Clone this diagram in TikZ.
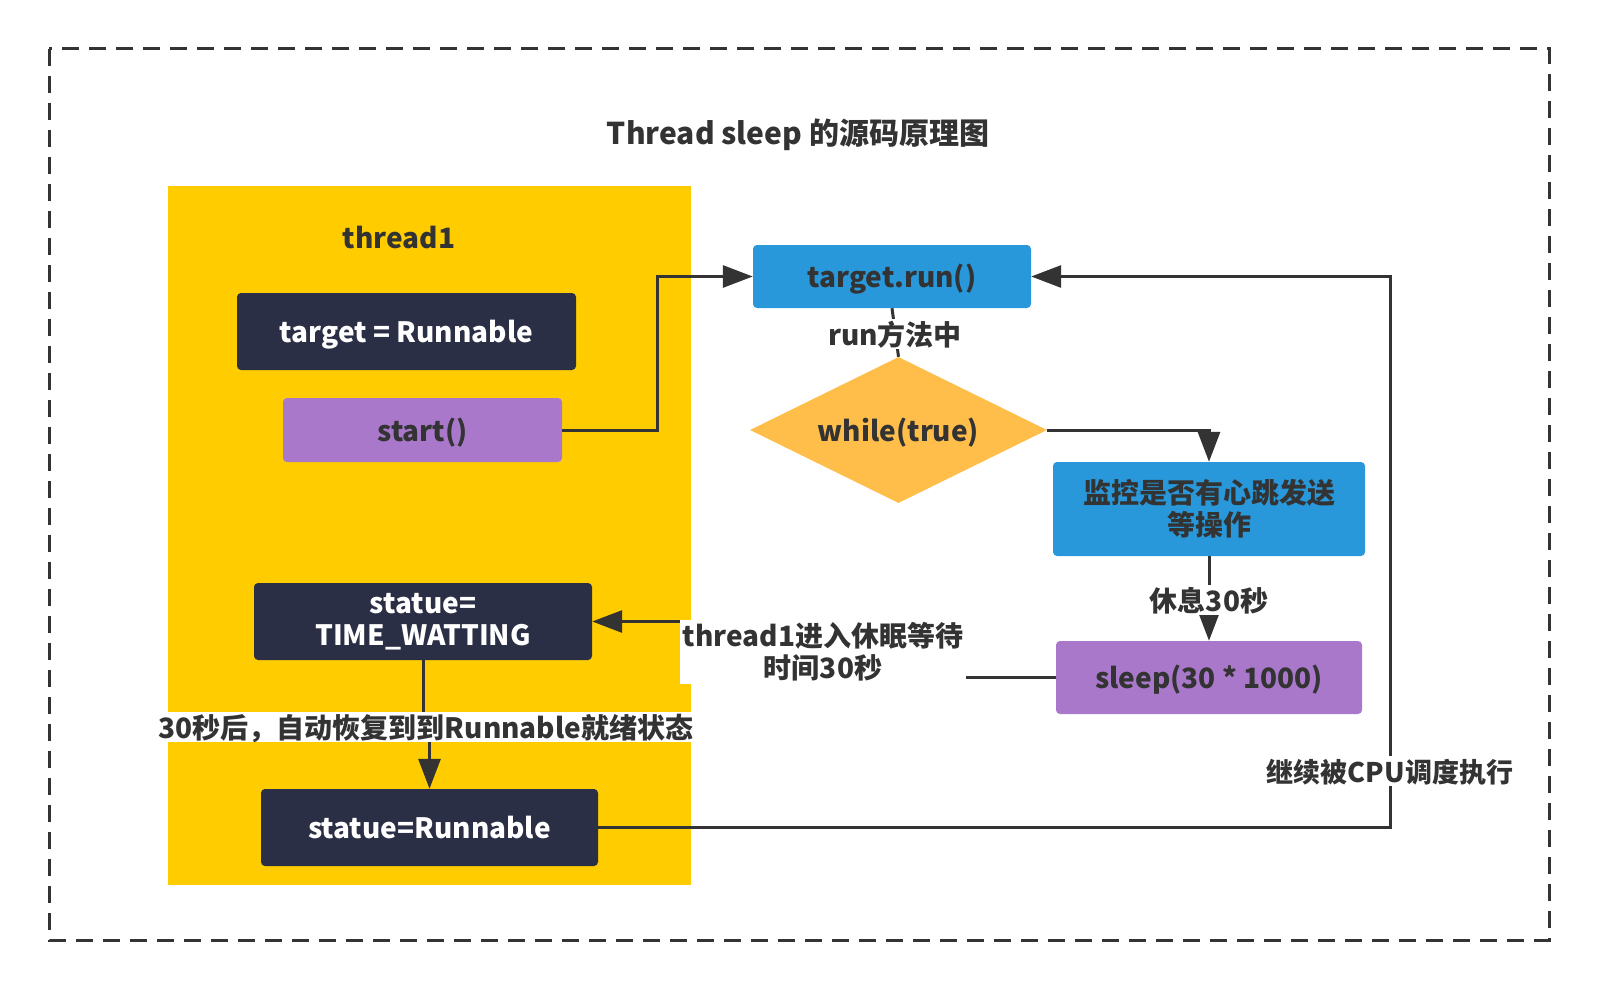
\documentclass[tikz,border=0pt]{standalone}
\usepackage{fontspec}
\setmainfont{Noto Sans CJK SC}
\usetikzlibrary{arrows.meta,shapes.geometric}

\definecolor{ink}{HTML}{333333}
\definecolor{gold}{HTML}{FFCC00}
\definecolor{navy}{HTML}{2B2F45}
\definecolor{lilac}{HTML}{A978CB}
\definecolor{sky}{HTML}{2898DA}
\definecolor{amber}{HTML}{FFBD4A}

\begin{document}
\begin{tikzpicture}[x=1pt,y=-1pt,
  txt/.style={font=\fontsize{28}{32}\selectfont\bfseries,text=ink},
  oneline/.style={text height=25pt,text depth=3pt},
  box/.style={txt,rounded corners=4pt,align=center,inner sep=0pt},
  navybox/.style={box,fill=navy,text=white},
  lilacbox/.style={box,fill=lilac},
  skybox/.style={box,fill=sky},
  lbl/.style={txt,fill=white,inner sep=1pt,align=center},
  arr/.style={draw=ink,line width=3pt,-{Triangle[length=30pt,width=22pt]}},
  con/.style={draw=ink,line width=3pt}]
 \useasboundingbox (0,0) rectangle (1598,990);
 % outer frame and thread area
 \draw[ink,line width=3pt,dash pattern=on 17pt off 10pt] (49,49) rectangle (1549,940);
 \fill[gold] (168,186) rectangle (691,885);
 \node[txt,oneline,font=\fontsize{30}{34}\selectfont\bfseries] (title) at (798,133) {Thread sleep 的源码原理图};
 \node[txt,oneline] (thr) at (399,237) {thread1};
 % thread1 side
 \node[navybox,oneline,minimum width=339pt,minimum height=77pt] (tgt) at (406.5,331.5) {target = Runnable};
 \node[lilacbox,oneline,minimum width=279pt,minimum height=64pt] (start) at (422.5,430) {start()};
 \node[navybox,minimum width=338pt,minimum height=77pt] (tw) at (423,621.5) {statue=\\TIME\_WATTING};
 \node[navybox,oneline,minimum width=337pt,minimum height=77pt] (rn) at (429.5,827.5) {statue=Runnable};
 % run side
 \node[skybox,oneline,minimum width=278pt,minimum height=63pt] (run) at (892,276.5) {target.run()};
 \node[txt,oneline,diamond,aspect=2.03,fill=amber,inner sep=0pt,minimum width=297pt,minimum height=146pt] (loop) at (898.5,430) {while(true)};
 \node[skybox,minimum width=312pt,minimum height=94pt] (mon) at (1209,509) {监控是否有心跳发送\\等操作};
 \node[lilacbox,oneline,minimum width=306pt,minimum height=73pt] (slp) at (1209,677.5) {sleep(30 * 1000)};
 % connectors
 \draw[arr] (start.east) -- ++(95,0) |- (run.west);
 \draw[con] (run.south) -- (loop.north);
 \node[lbl,oneline] (lrun) at (895,334) {run方法中};
 \draw[arr] (loop.east) -| (mon.north);
 \draw[arr] (mon.south) -- (slp.north);
 \node[lbl,oneline] (lmon) at (1209,600) {休息30秒};
 \draw[arr] (slp.west) -- ++(-233,0) |- (tw.east);
 \node[lbl,inner sep=3pt] (lslp) at (823,652) {thread1进入休眠等待\\时间30秒};
 \draw[arr] (tw.south) -- ++(0,67) -| (rn.north);
 \node[lbl,oneline] (ltw) at (426,727) {30秒后，自动恢复到到Runnable就绪状态};
 \draw[arr] (rn.east) -- ++(792,0) |- (run.east);
 \node[lbl,oneline,font=\fontsize{27}{31}\selectfont\bfseries] (lrn) at (1390,771) {继续被CPU调度执行};
\end{tikzpicture}
\end{document}
